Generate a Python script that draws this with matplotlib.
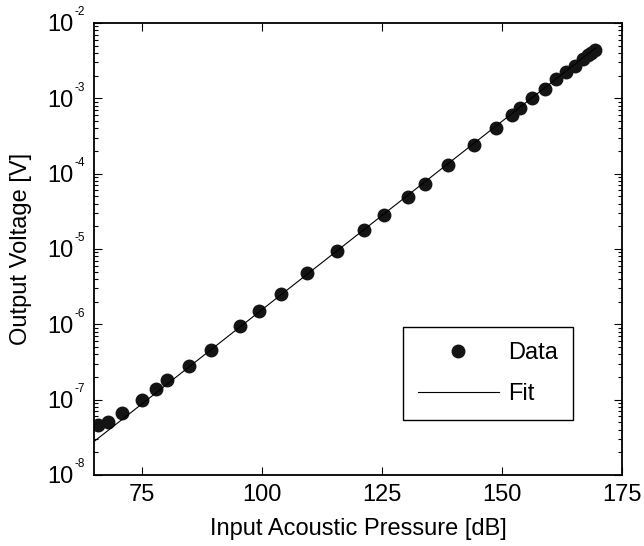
import numpy as np
import matplotlib
matplotlib.use("Agg")
import matplotlib.pyplot as plt
from matplotlib.ticker import LogLocator, FixedLocator, NullFormatter

plt.rcParams['font.family'] = ['Liberation Sans', 'DejaVu Sans']

pressure_db = [65.9, 68.0, 70.8, 75.0, 78.0, 80.1, 84.7, 89.4, 95.5, 99.3,
               104.0, 109.3, 115.7, 121.3, 125.3, 130.5, 133.9, 138.7, 144.1, 148.8,
               152.0, 153.8, 156.2, 159.0, 161.3, 163.4, 165.1, 166.9, 167.8, 168.6, 169.3]
voltage_v = [4.6e-8, 5.1e-8, 6.6e-8, 1.0e-7, 1.38e-7, 1.81e-7, 2.8e-7, 4.6e-7, 9.4e-7, 1.48e-6,
             2.55e-6, 4.8e-6, 9.4e-6, 1.8e-5, 2.8e-5, 4.85e-5, 7.2e-5, 1.32e-4, 2.42e-4, 4.03e-4,
             6.0e-4, 7.4e-4, 9.95e-4, 1.32e-3, 1.8e-3, 2.24e-3, 2.69e-3, 3.3e-3, 3.75e-3, 4.05e-3, 4.4e-3]

# fit: log10(V) = intercept + slope * dB
fit_slope = 0.05
fit_intercept = -10.805
fit_range = [65, 169.5]

x_ticks = [75, 100, 125, 150, 175]
y_decades = [-8, -7, -6, -5, -4, -3, -2]

fig = plt.figure(figsize=(6.44, 5.46), dpi=100)
ax = fig.add_axes([0.146, 0.130, 0.820, 0.828])

xf = np.linspace(fit_range[0], fit_range[1], 200)
yf = 10 ** (fit_intercept + fit_slope * xf)

ax.semilogy(pressure_db, voltage_v, 'o', color='#141414', markersize=9, label='Data')
ax.semilogy(xf, yf, '-', color='black', linewidth=0.8, label='Fit')

ax.set_xlim(65, 175)
ax.set_ylim(1e-8, 1e-2)
ax.xaxis.set_major_locator(FixedLocator(x_ticks))
ax.yaxis.set_major_locator(LogLocator(base=10, numticks=10))
ax.yaxis.set_minor_locator(LogLocator(base=10, subs=np.arange(2, 10), numticks=20))
ax.yaxis.set_major_formatter(NullFormatter())
ax.yaxis.set_minor_formatter(NullFormatter())

ax.tick_params(which='both', direction='in', top=True, right=True, width=0.8)
ax.tick_params(which='major', length=6)
ax.tick_params(which='minor', length=3)
ax.tick_params(axis='x', labelsize=17, pad=6.8)
for s in ax.spines.values():
    s.set_linewidth(1.3)

# MATLAB-style 10^n labels with a small exponent
ytrans = ax.get_yaxis_transform()
for d in y_decades:
    ax.annotate('10', xy=(0, 10.0 ** d), xycoords=ytrans, xytext=(-14.6, -6.0),
                textcoords='offset points', ha='right', va='baseline', fontsize=17,
                annotation_clip=False)
    ax.annotate(str(d), xy=(0, 10.0 ** d), xycoords=ytrans, xytext=(-6.5, 5.5),
                textcoords='offset points', ha='right', va='baseline', fontsize=8.5,
                annotation_clip=False)

ax.set_xlabel('Input Acoustic Pressure [dB]', fontsize=17, labelpad=8)
ax.set_ylabel('Output Voltage [V]', fontsize=17)
ax.yaxis.set_label_coords(-0.118, 0.5)

leg = ax.legend(loc='upper left', bbox_to_anchor=(0.585, 0.3265), borderaxespad=0,
                fontsize=17, handlelength=3.43, handletextpad=0.42, labelspacing=0.8,
                borderpad=0.62, fancybox=False, framealpha=1, edgecolor='black')
leg.get_frame().set_linewidth(1.0)

fig.savefig('out.png', dpi=100)
